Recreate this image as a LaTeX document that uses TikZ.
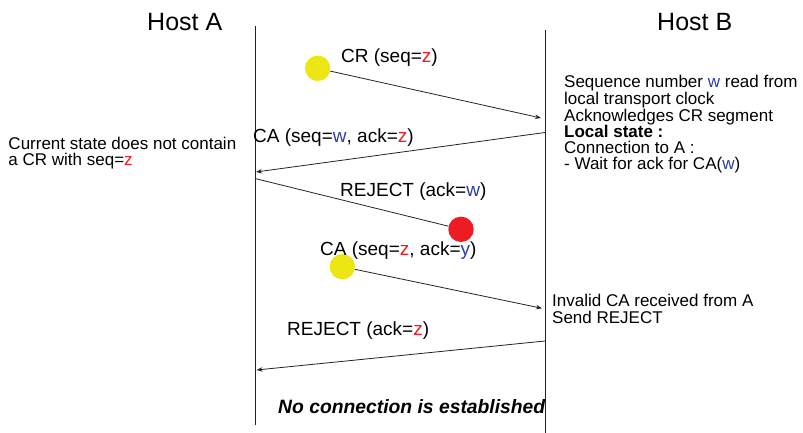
\documentclass[tikz,border=0pt]{standalone}
\usepackage{fontspec}
\setmainfont{Liberation Sans}
\usetikzlibrary{arrows.meta}
\definecolor{zred}{RGB}{237,28,36}
\definecolor{wblue}{RGB}{45,60,160}
\definecolor{dotyellow}{RGB}{236,230,20}
\definecolor{linegray}{RGB}{35,35,35}
\newcommand{\zr}{\textcolor{zred}{z}}
\newcommand{\wb}{\textcolor{wblue}{w}}
\newcommand{\yb}{\textcolor{wblue}{y}}
\begin{document}
\begin{tikzpicture}[x=1pt,y=-1pt,
  lifeline/.style={draw=linegray,line width=0.9pt},
  msg/.style={draw=linegray,line width=0.8pt,-{Stealth[length=6pt,width=4.5pt]}},
  lostmsg/.style={draw=linegray,line width=0.8pt},
  lbl/.style={inner sep=0pt,anchor=base west,font=\fontsize{19}{22}\selectfont},
  host/.style={inner sep=0pt,anchor=base west,font=\fontsize{25}{28}\selectfont},
  block/.style={inner sep=0pt,anchor=base west,align=left},
  dot/.style={circle,inner sep=0pt,minimum size=25.4pt,draw=none}]
\useasboundingbox (0,0) rectangle (803,433);
% hosts
\node[host] (hA) at (147,30.5) {Host A};
\node[host] (hB) at (657,30.5) {Host B};
% lifelines
\coordinate (Atop) at (255,26);
\coordinate (Abot) at (255,425);
\coordinate (Btop) at (545,30);
\coordinate (Bbot) at (545,433);
\draw[lifeline] (Atop) -- (Abot);
\draw[lifeline] (Btop) -- (Bbot);
% points on lifelines
\coordinate (b0) at (541,118);
\coordinate (b1) at (545,132.5);
\coordinate (a1) at (256,172);
\coordinate (a2) at (255,178.5);
\coordinate (b2) at (542,308.3);
\coordinate (b3) at (545,341);
\coordinate (a3) at (256.5,370);
% circles
\node[dot,fill=dotyellow] (c1) at (317.7,68.3) {};
\node[dot,fill=zred] (c2) at (461,229.3) {};
\node[dot,fill=dotyellow] (c3) at (342.3,266.7) {};
% messages
\draw[msg] (c1) -- (b0);
\draw[msg] (b1) -- (a1);
\draw[lostmsg] (a2) -- (c2);
\draw[msg] (c3) -- (b2);
\draw[msg] (b3) -- (a3);
% labels
\node[lbl] (l1) at (341,62.7) {CR (seq=\zr)};
\node[lbl] (l2) at (253,142.7) {CA (seq=\wb, ack=\zr)};
\node[lbl] (l3) at (340,196.7) {REJECT (ack=\wb)};
\node[lbl] (l4) at (320,255) {CA (seq=\zr, ack=\yb)};
\node[lbl] (l5) at (287,335) {REJECT (ack=\zr)};
\node[inner sep=0pt,anchor=base west,font=\fontsize{19.3}{22}\selectfont\bfseries\itshape] (l6) at (278,413.3) {No connection is established};
% text blocks (base anchor = last line's baseline)
\node[block,font=\fontsize{17}{15.8}\selectfont] (tl) at (8.3,165) {Current state does not contain\\a CR with seq=\zr};
\node[block,font=\fontsize{17}{15.8}\selectfont] (tr) at (564,169.5) {Sequence number \wb{} read from\\local transport clock\\Acknowledges CR segment\\\textbf{Local state :}\\Connection to A :\\- Wait for ack for CA(\wb)};
\node[block,font=\fontsize{17}{16.3}\selectfont] (ti) at (552,323) {Invalid CA received from A\\Send REJECT};
\end{tikzpicture}
\end{document}
